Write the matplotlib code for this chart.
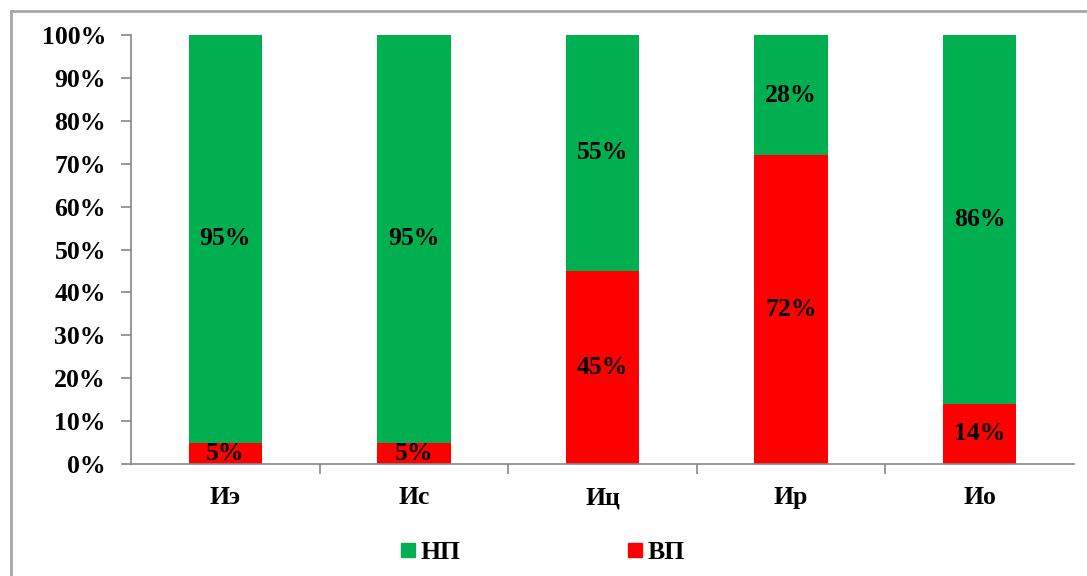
import matplotlib
matplotlib.use("Agg")
import matplotlib.pyplot as plt
from matplotlib.patches import Rectangle
from matplotlib.lines import Line2D
import numpy as np

# Данные
categories = ["Иэ", "Ис", "Иц", "Ир", "Ио"]
vp = [5, 5, 45, 72, 14]     # ВП (нижняя часть)
np_ = [95, 95, 55, 28, 86]  # НП (верхняя часть)
series_names = ["НП", "ВП"]
green = "#00B050"
red = "#FF0000"

plt.rcParams["font.family"] = ["Liberation Serif", "DejaVu Serif"]
plt.rcParams["font.weight"] = "bold"
fs = 18.5

fig = plt.figure(figsize=(10.87, 5.76), dpi=100)
ax = fig.add_axes([0.1205, 0.1944, 0.8675, 0.7448])

x = np.arange(len(categories))
w = 0.39
b1 = ax.bar(x, vp, w, color=red, zorder=2)
b2 = ax.bar(x, np_, w, bottom=vp, color=green, zorder=2)

for bars, vals, bot in [(b1, vp, [0] * 5), (b2, np_, vp)]:
    for xi, v, b in zip(x, vals, bot):
        ax.text(xi, b + v / 2, f"{v}%", ha="center", va="center",
                fontsize=fs, fontweight="bold", color="black", zorder=3)

ax.set_xlim(-0.5, len(categories) - 0.5)
ax.set_ylim(0, 100)
ax.set_yticks(np.arange(0, 101, 10))
ax.set_yticklabels([f"{v}%" for v in range(0, 101, 10)], fontsize=fs, fontweight="bold")
ax.set_xticks(x)
ax.set_xticklabels(categories, fontsize=fs, fontweight="bold")
ax.set_xticks(np.arange(0.5, len(categories) - 0.5, 1), minor=True)
ax.tick_params(axis="x", which="major", length=0, pad=16)
ax.tick_params(axis="x", which="minor", length=7, color="#868686", width=1.2)
ax.tick_params(axis="y", length=7, color="#868686", width=1.2, pad=11)

for s in ["top", "right"]:
    ax.spines[s].set_visible(False)
for s in ["left", "bottom"]:
    ax.spines[s].set_color("#868686")
    ax.spines[s].set_linewidth(1.2)

handles = [Line2D([], [], marker="s", linestyle="none", markersize=10, color=green),
           Line2D([], [], marker="s", linestyle="none", markersize=10, color=red)]
fig.legend(handles, series_names, loc="center", bbox_to_anchor=(0.498, 0.040), ncol=2,
           frameon=False, fontsize=fs, handletextpad=0.1, columnspacing=6.4,
           handlelength=0.8)

# Рамка диаграммы
fig.patches.append(Rectangle((11 / 1087, -0.1), 1.5, 1.1 - 11 / 576,
                             transform=fig.transFigure, fill=False,
                             edgecolor="#A6A6A6", linewidth=2))

fig.savefig("out.png", dpi=100)
